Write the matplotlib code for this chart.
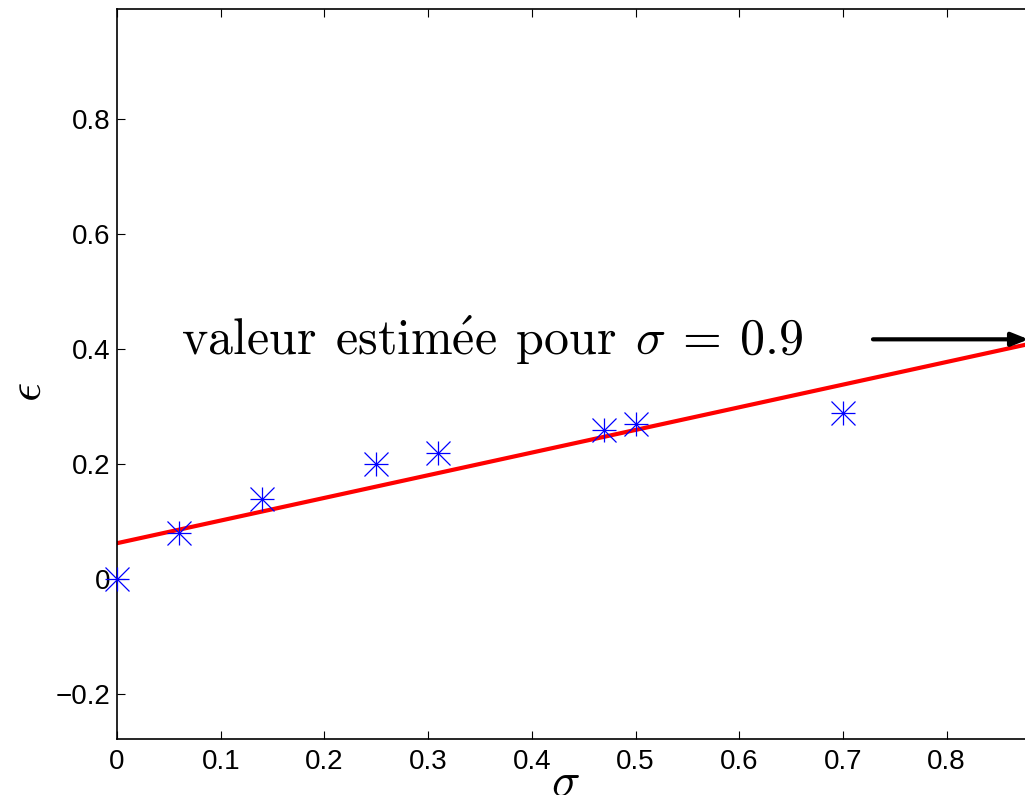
import matplotlib
matplotlib.use("Agg")
import matplotlib.pyplot as plt
import numpy as np

# measured points (sigma, epsilon)
SIGMA = [0.0, 0.06, 0.14, 0.25, 0.31, 0.47, 0.50, 0.70]
EPSILON = [0.0, 0.08, 0.14, 0.20, 0.22, 0.26, 0.27, 0.29]

SIGMA_TARGET = 0.9
XTICKS = [0.0, 0.1, 0.2, 0.3, 0.4, 0.5, 0.6, 0.7, 0.8]
YTICKS = [-0.2, 0.0, 0.2, 0.4, 0.6, 0.8]
XLIM = (0.0, 0.9)
YLIM = (-0.278, 0.991)

plt.rcParams["font.family"] = ["Liberation Sans", "DejaVu Sans"]
plt.rcParams["mathtext.fontset"] = "cm"
plt.rcParams["axes.unicode_minus"] = True


def main():
    fig = plt.figure(figsize=(10.25, 7.95), dpi=100)
    # axes run past the right border, so the right spine is cut off
    ax = fig.add_axes([117 / 1025, 55.7 / 795, 0.9 * 1037 / 1025, 730 / 795])

    x = np.array(SIGMA)
    y = np.array(EPSILON)
    slope, intercept = np.polyfit(x, y, 1)
    xs = np.array([0.0, SIGMA_TARGET])
    ax.plot(xs, slope * xs + intercept, color="red", linewidth=3.0, zorder=2)

    # matlab-style asterisk: a plus and a cross on top of each other
    for m in ["+", "x"]:
        ax.plot(x, y, linestyle="none", marker=m, markersize=17,
                markeredgewidth=0.9, color="blue", zorder=3, clip_on=False)

    est = slope * SIGMA_TARGET + intercept
    ax.annotate("", xy=(0.879, est), xytext=(0.729, est),
                arrowprops=dict(arrowstyle="-|>,head_length=1.0,head_width=0.4",
                                color="black", linewidth=3.0,
                                shrinkA=0, shrinkB=0),
                annotation_clip=False)
    ax.text(0.0617, 0.39,
            r"$\mathrm{valeur\;\,estim\acute{e}e\;\,pour}\;\,\sigma\:=\:0.9$",
            fontsize=36, ha="left", va="baseline")

    ax.set_xlim(*XLIM)
    ax.set_ylim(*YLIM)
    ax.set_xticks(XTICKS)
    ax.set_yticks(YTICKS)
    ax.set_xticklabels([f"{v:g}" for v in XTICKS])
    ax.set_yticklabels([f"{v:g}".replace("-", "\u2212") for v in YTICKS])
    ax.tick_params(direction="in", length=6, width=0.8, labelsize=20,
                   top=True, right=True)
    ax.tick_params(axis="x", pad=7)
    ax.tick_params(axis="y", pad=5)
    for s in ax.spines.values():
        s.set_linewidth(1.2)

    ax.text(-0.0943, 0.476, r"$\epsilon$", fontsize=34, rotation=90,
            ha="center", va="center", transform=ax.transAxes)
    ax.text(0.48, -0.078, r"$\sigma$", fontsize=34, ha="center",
            va="baseline", transform=ax.transAxes)

    fig.savefig("out.png", dpi=100)
    plt.close(fig)


if __name__ == "__main__":
    main()
